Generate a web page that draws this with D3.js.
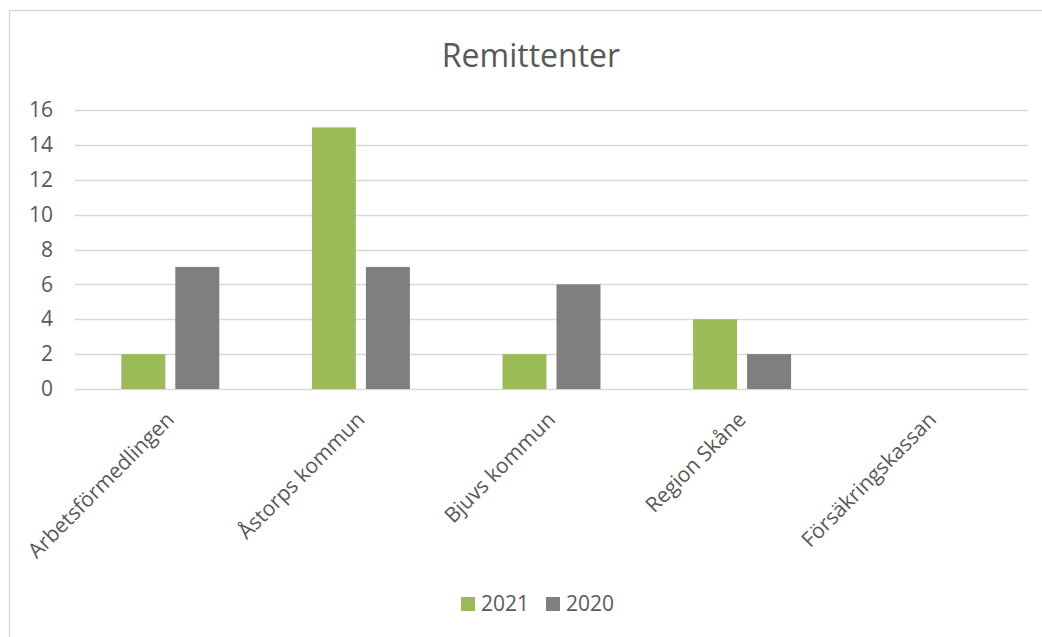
<!DOCTYPE html>
<html>
<head>
<meta charset="utf-8">
<script src="https://cdn.jsdelivr.net/npm/d3@7"></script>
<style>
  body { margin: 0; background: #fff; }
  svg { display: block; font-family: "Open Sans", sans-serif; }
</style>
</head>
<body>
<div id="chart"></div>
<script>
// Chart data
var categories = ["Arbetsförmedlingen", "Åstorps kommun", "Bjuvs kommun", "Region Skåne", "Försäkringskassan"];
var seriesNames = ["2021", "2020"];
var values2021 = [2, 15, 2, 4, 0];
var values2020 = [7, 7, 6, 2, 0];
var yTicks = [0, 2, 4, 6, 8, 10, 12, 14, 16];
var colors = ["#9BBB59", "#7F7F7F"];

var W = 1042, H = 637;
var plot = {left: 75, right: 1028, top: 110, bottom: 389};
var textColor = "#595959";

var svg = d3.select("#chart").append("svg")
  .attr("width", W).attr("height", H);

// Chart area border
svg.append("rect")
  .attr("x", 9.5).attr("y", 10.5)
  .attr("width", W + 20).attr("height", H + 20)
  .attr("fill", "none").attr("stroke", "#D9D9D9").attr("stroke-width", 1.5);

// Title
svg.append("text")
  .attr("x", 531).attr("y", 67)
  .attr("text-anchor", "middle")
  .attr("font-size", 32)
  .attr("fill", textColor)
  .text("Remittenter");

var x = d3.scaleBand().domain(categories)
  .range([plot.left, plot.right])
  .paddingInner(0.486).paddingOuter(0.243);
var xInner = d3.scaleBand().domain(seriesNames)
  .range([0, x.bandwidth()])
  .paddingInner(0.185);
var y = d3.scaleLinear().domain([0, 16]).range([plot.bottom, plot.top]);

// Gridlines
svg.append("g").selectAll("line")
  .data(yTicks)
  .enter().append("line")
  .attr("x1", plot.left).attr("x2", plot.right)
  .attr("y1", d => Math.round(y(d)) + 0.5).attr("y2", d => Math.round(y(d)) + 0.5)
  .attr("stroke", "#D9D9D9").attr("stroke-width", 1.5);

// Y axis labels
var yAxis = d3.axisLeft(y).tickValues(yTicks).tickSize(0).tickPadding(0);
var yg = svg.append("g")
  .attr("transform", "translate(" + 53 + ",0)")
  .call(yAxis);
yg.select(".domain").remove();
yg.selectAll("text")
  .attr("font-size", 21)
  .attr("font-family", "Open Sans, sans-serif")
  .attr("fill", textColor);

// Bars
var series = [values2021, values2020];
var groups = svg.append("g").selectAll("g")
  .data(series)
  .enter().append("g")
  .attr("fill", (d, i) => colors[i]);
groups.each(function(vals, si) {
  d3.select(this).selectAll("rect")
    .data(vals.map((v, ci) => ({cat: categories[ci], v: v})))
    .enter().append("rect")
    .attr("x", d => x(d.cat) + xInner(seriesNames[si]))
    .attr("width", xInner.bandwidth())
    .attr("y", d => y(d.v))
    .attr("height", d => y(0) - y(d.v));
});

// X axis labels
var xAxis = d3.axisBottom(x).tickSize(0).tickPadding(0);
var xg = svg.append("g")
  .attr("transform", "translate(0," + plot.bottom + ")")
  .call(xAxis);
xg.select(".domain").remove();
xg.selectAll("text")
  .attr("font-size", 21)
  .attr("font-family", "Open Sans, sans-serif")
  .attr("fill", textColor)
  .attr("text-anchor", "end")
  .attr("dy", null)
  .attr("transform", "translate(5,32) rotate(-45)");

// Legend
var legend = svg.append("g").attr("transform", "translate(461,597)");
var legendX = [0, 85];
seriesNames.forEach(function(name, i) {
  var g = legend.append("g").attr("transform", "translate(" + legendX[i] + ",0)");
  g.append("rect").attr("width", 14).attr("height", 14).attr("fill", colors[i]);
  g.append("text").attr("x", 20).attr("y", 14)
    .attr("font-size", 21).attr("fill", textColor).text(name);
});
</script>
</body>
</html>
